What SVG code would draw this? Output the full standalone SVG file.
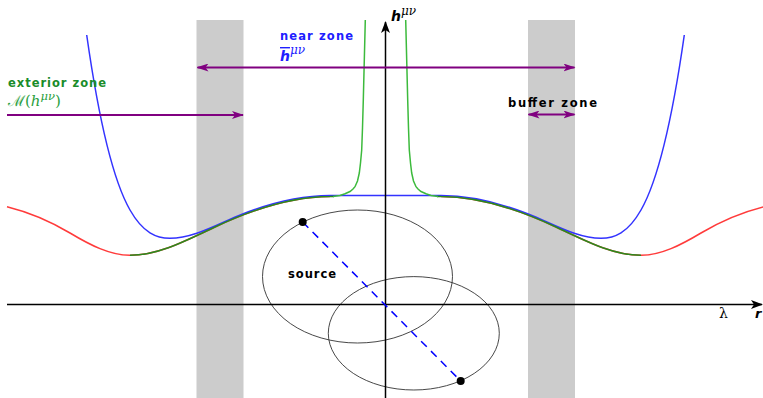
<svg xmlns="http://www.w3.org/2000/svg" width="763" height="398" viewBox="0 0 763 398">
<style>
.lbl{font-family:"DejaVu Sans","Liberation Sans",sans-serif;font-size:11.5px;font-weight:bold}
.math{font-family:"DejaVu Serif","Liberation Serif",serif}
.curve{fill:none;stroke-width:1.5}
.band{fill:#cccccc}
.zarrow{stroke:#800080;stroke-width:2;fill:none}
</style>
<defs>
<marker id="pa" viewBox="0 0 12 8" markerWidth="12" markerHeight="8" refX="11" refY="4" orient="auto-start-reverse" markerUnits="userSpaceOnUse">
<path d="M0,0 L12,4 L0,8 L3,4 z" fill="#800080"/>
</marker>
<marker id="ka" viewBox="0 0 12 9" markerWidth="12" markerHeight="9" refX="11" refY="4.5" orient="auto" markerUnits="userSpaceOnUse">
<path d="M0,0 L12,4.5 L0,9 L3,4.5 z" fill="#000"/>
</marker>
</defs>
<g id="bands">
<rect class="band" x="196.5" y="20" width="47" height="378"/>
<rect class="band" x="528" y="20" width="47" height="378"/>
</g>
<g id="curves">
<path id="red-left" class="curve" stroke="#ff3b3b" d="M7,206.7 C28,211.95 49,220.4 70,233 C90,245 110,255.3 130,255.3 C158.3,255.3 186.7,240.3 215,227 C253.3,209 291.7,196.5 330,196.5"/>
<path id="red-right" class="curve" stroke="#ff3b3b" d="M441,196.5 C479.3,196.5 517.7,209 556,227 C584.3,240.3 612.7,255.3 641,255.3 C661,255.3 681,245 701,233 C722,220.4 743,211.95 764,206.7"/>
<path id="blue" class="curve" stroke="#3333ff" d="M86.7,35 C101.1,136 115.6,184.8 130,210 C143.3,233.3 156.7,238.3 170,238.3 C194.3,238.3 218.25,223.6 242.75,213.94 C271.5,202.83 300.3,195.6 330,195.6 L441,195.6 C470.7,195.6 499.5,202.83 528.25,213.94 C552.75,223.6 576.7,238.3 601,238.3 C614.3,238.3 627.7,233.3 641,210 C655.4,184.8 669.9,136 684.3,35"/>
<path id="green-left" class="curve" stroke="#2a8a1e" d="M130,255.3 C158.3,255.3 186.7,240.3 215,227 C253.3,209 291.7,196.5 330,196.5 L334,196.4"/>
<path id="green-right" class="curve" stroke="#2a8a1e" d="M641,255.3 C612.7,255.3 584.3,240.3 556,227 C517.7,209 479.3,196.5 441,196.5 L437,196.4"/>
<polyline id="spike-left" class="curve" stroke="#3cba3c" points="333,196.4 340,195.4 345,193.8 350,191.5 353,189 355,186.7 357.5,181 359.3,173 360.5,163 361.7,150 362.5,128 363.3,100 364.3,60 365.3,20"/>
<polyline id="spike-right" class="curve" stroke="#3cba3c" points="438,196.4 431,195.4 426,193.8 421,191.5 418,189 416,186.7 413.5,181 411.7,173 410.5,163 409.3,150 408.5,128 407.7,100 406.7,60 405.7,20"/>
</g>
<g id="source">
<ellipse cx="357.5" cy="276.5" rx="95" ry="66.5" fill="none" stroke="#333" stroke-width="0.9"/>
<ellipse cx="413.8" cy="333.3" rx="85.5" ry="56.7" fill="none" stroke="#333" stroke-width="0.9"/>
<text class="lbl" x="288" y="278" textLength="48" lengthAdjust="spacing" fill="#000">source</text>
</g>
<g id="axes">
<line x1="7" y1="304.5" x2="762" y2="304.5" stroke="#000" stroke-width="1.5" marker-end="url(#ka)"/>
<line x1="385.5" y1="398" x2="385.5" y2="22" stroke="#000" stroke-width="1.5" marker-end="url(#ka)"/>
<text x="719" y="318" font-family="DejaVu Serif,serif" font-size="14" fill="#000">λ</text>
<text x="755" y="318" font-family="DejaVu Sans,sans-serif" font-size="13" font-style="italic" font-weight="bold" fill="#000">r</text>
<text x="391" y="21" font-family="DejaVu Sans,sans-serif" font-size="14" font-style="italic" font-weight="bold" fill="#000">h<tspan class="math" font-weight="normal" font-size="12" dy="-6">μν</tspan></text>
</g>
<g id="connectors">
<line id="near-arrow" class="zarrow" x1="197.5" y1="67.5" x2="574.5" y2="67.5" marker-start="url(#pa)" marker-end="url(#pa)"/>
<line id="ext-arrow" class="zarrow" x1="7" y1="115" x2="243" y2="115" marker-end="url(#pa)"/>
<line id="buffer-arrow" class="zarrow" x1="528.5" y1="114.5" x2="574.5" y2="114.5" marker-start="url(#pa)" marker-end="url(#pa)"/>
<line id="diameter" x1="302.7" y1="222" x2="460.7" y2="381" stroke="#0000ff" stroke-width="1.5" stroke-dasharray="8,6"/>
<circle cx="302.7" cy="222" r="4" fill="#000"/>
<circle cx="460.7" cy="381" r="4" fill="#000"/>
</g>
<g id="near-zone">
<text class="lbl" x="280" y="40" textLength="73" lengthAdjust="spacing" fill="#2020ff">near zone</text>
<text x="280" y="61" font-family="DejaVu Sans,sans-serif" font-size="14" font-style="italic" font-weight="bold" fill="#2020ff"><tspan text-decoration="overline">h</tspan><tspan class="math" font-weight="normal" font-size="12" dy="-7">μν</tspan></text>
</g>
<g id="exterior-zone">
<text class="lbl" x="8" y="87" textLength="98" lengthAdjust="spacing" fill="#1a8c2a">exterior zone</text>
<text class="math" x="8" y="106" font-size="15" fill="#2aa040">ℳ(<tspan font-style="italic">h</tspan><tspan font-style="italic" font-size="11.5" dy="-6">μν</tspan><tspan dy="6">)</tspan></text>
</g>
<g id="buffer-zone">
<text class="lbl" x="508" y="107" textLength="89" lengthAdjust="spacing" fill="#000">buffer zone</text>
</g>
</svg>
